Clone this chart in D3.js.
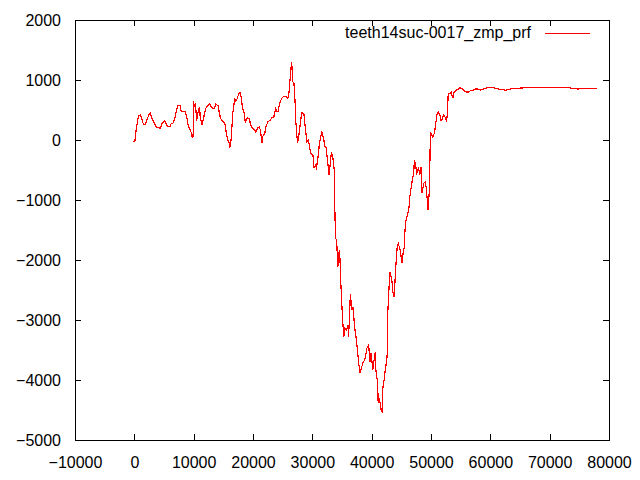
<!DOCTYPE html>
<html>
<head>
<meta charset="utf-8">
<script src="https://cdn.jsdelivr.net/npm/d3@7"></script>
<style>
  body { margin: 0; background: #fff; }
  text { font-family: "Liberation Sans", Arial, sans-serif; font-size: 16px; fill: #000; }
</style>
</head>
<body>
<div id="chart"></div>
<script>
const width = 640;
const height = 480;

const seriesName = "teeth14suc-0017_zmp_prf";
const xTicks = [-10000, 0, 10000, 20000, 30000, 40000, 50000, 60000, 70000, 80000];
const yTicks = [-5000, -4000, -3000, -2000, -1000, 0, 1000, 2000];

// sample position / zmp value
const xs = [
  -200, 100, 300, 700, 1000, 1200, 1500, 1800, 2100, 2500, 2700, 2900, 3400, 3700, 4200, 4400, 4700, 5100, 5300, 5600,
  6000, 6200, 6500, 6800, 7100, 7400, 7700, 7900, 8200, 8600, 8900, 9100, 9300, 9600, 9800, 9900, 10000, 10100, 10300, 10500,
  10600, 10800, 11000, 11100, 11400, 11700, 12000, 12400, 12700, 13000, 13200, 13500, 13700, 14100, 14300, 14500, 14700, 15100, 15300, 15500,
  15800, 16000, 16100, 16300, 16600, 16900, 17100, 17300, 17600, 17800, 18000, 18200, 18500, 18700, 19000, 19400, 19600, 19900, 20300, 20500,
  20800, 21100, 21300, 21500, 21600, 22000, 22200, 22500, 22900, 23200, 23500, 23800, 24000, 24200, 24500, 24900, 25200, 25600, 25800, 26000,
  26200, 26500, 26600, 26700, 26900, 27100, 27200, 27500, 27700, 27900, 28200, 28400, 28600, 28800, 29100, 29300, 29500, 29700, 30100, 30300,
  30500, 30700, 31000, 31200, 31400, 31600, 31900, 32100, 32300, 32600, 32800, 33000, 33200, 33400, 33700, 33800, 33900, 34100, 34300, 34500,
  34600, 34800, 35100, 35300, 35500, 35800, 36000, 36100, 36300, 36400, 36700, 36900, 37100, 37300, 37600, 37800, 38000, 38200, 38500, 38800,
  39000, 39200, 39500, 39700, 39900, 40200, 40400, 40600, 40700, 41000, 41100, 41300, 41600, 41800, 41900, 42100, 42300, 42600, 42700, 42900,
  43100, 43400, 43600, 43800, 44000, 44300, 44500, 44800, 45100, 45300, 45500, 45600, 45800, 46100, 46300, 46400, 46600, 46800, 47100, 47200,
  47400, 47600, 47900, 48100, 48300, 48500, 48800, 49000, 49200, 49400, 49500, 49700, 49800, 49900, 50100, 50300, 50600, 50800, 51000, 51200,
  51500, 51700, 51900, 52100, 52400, 52600, 52700, 52800, 52900, 53200, 53400, 53600, 53700, 53900, 54300, 54600, 54900, 55300, 55600, 56000,
  56300, 56600, 57100, 57400, 57900, 58300, 59100, 60100, 61300, 62600, 63400, 64100, 65800, 67400, 68600, 70000, 71300, 72800, 73900, 74800,
  75900, 77000, 78000
];
const ys = [
  -30, -20, 170, 400, 420, 370, 270, 250, 330, 430, 450, 380, 270, 220, 200, 200, 280, 320, 280, 220,
  220, 270, 280, 350, 500, 580, 580, 480, 470, 480, 350, 220, 200, 120, 30, 70, 650, 550, 620, 320,
  380, 500, 550, 380, 250, 380, 520, 580, 600, 550, 520, 530, 600, 570, 470, 370, 330, 300, 250, 120,
  -20, -50, -130, 0, 450, 680, 650, 680, 770, 800, 720, 550, 450, 300, 370, 350, 250, 200, 170, 130,
  200, 220, 130, -50, 50, 120, 230, 300, 330, 370, 380, 520, 480, 470, 620, 700, 730, 720, 700, 720,
  950, 1300, 1200, 970, 950, 620, 330, -50, 50, 220, 450, 450, 420, 220, -30, 0, -80, -220, -250, -470,
  -420, -470, -250, -50, 50, 130, 30, -100, -120, -370, -580, -420, -220, -250, -500, -1170, -1630, -1670, -2120, -1880,
  -1830, -2380, -3000, -3280, -3130, -3170, -3080, -3280, -2880, -2570, -2830, -2780, -3120, -3220, -3500, -3700, -3880, -3830, -3720, -3670,
  -3580, -3470, -3420, -3700, -3550, -3830, -3670, -3530, -3830, -4050, -4380, -4300, -4500, -4530, -4120, -4000, -3830, -3620, -2920, -2500,
  -2200, -2330, -2550, -2620, -2220, -1780, -1730, -1830, -2050, -1880, -1780, -1530, -1330, -1220, -1120, -970, -830, -700, -530, -330,
  -420, -550, -470, -580, -450, -880, -720, -700, -800, -1030, -1170, -880, -450, 130, 80, 50, 120, 280, 420, 470,
  420, 320, 350, 420, 380, 330, 370, 530, 770, 780, 800, 720, 700, 800, 830, 850, 870, 850, 820, 800,
  800, 820, 830, 850, 850, 830, 860, 880, 850, 830, 850, 860, 870, 880, 870, 880, 870, 880, 860, 850,
  860, 860, 860
];

const data = xs.map((x, i) => ({x, y: ys[i]}));

const plotLeft = 75, plotRight = 609, plotTop = 20, plotBottom = 440;

const x = d3.scaleLinear().domain([-10000, 80000]).range([plotLeft, plotRight]);
const y = d3.scaleLinear().domain([-5000, 2000]).range([plotBottom, plotTop]);

const svg = d3.select("#chart").append("svg")
    .attr("width", width)
    .attr("height", height);

svg.append("rect")
    .attr("width", width)
    .attr("height", height)
    .attr("fill", "#fff");

// inward ticks on all four sides, gnuplot style
svg.append("g")
    .attr("transform", `translate(0,${plotBottom})`)
    .call(d3.axisBottom(x).tickValues(xTicks).tickSizeInner(-6).tickSizeOuter(0).tickPadding(17).tickFormat(d3.format("d")))
    .call(g => g.select(".domain").remove());

svg.append("g")
    .attr("transform", `translate(0,${plotTop})`)
    .call(d3.axisTop(x).tickValues(xTicks).tickSizeInner(-6).tickSizeOuter(0).tickFormat(""))
    .call(g => g.select(".domain").remove());

svg.append("g")
    .attr("transform", `translate(${plotLeft},0)`)
    .call(d3.axisLeft(y).tickValues(yTicks).tickSizeInner(-6).tickSizeOuter(0).tickPadding(14).tickFormat(d3.format("d")))
    .call(g => g.select(".domain").remove());

svg.append("g")
    .attr("transform", `translate(${plotRight},0)`)
    .call(d3.axisRight(y).tickValues(yTicks).tickSizeInner(-6).tickSizeOuter(0).tickFormat(""))
    .call(g => g.select(".domain").remove());

svg.selectAll(".tick text")
    .attr("font-family", null)
    .attr("font-size", null);

svg.selectAll(".tick line")
    .attr("shape-rendering", "crispEdges");

svg.append("rect")
    .attr("x", plotLeft + 0.5)
    .attr("y", plotTop + 0.5)
    .attr("width", plotRight - plotLeft)
    .attr("height", plotBottom - plotTop)
    .attr("fill", "none")
    .attr("stroke", "#000")
    .attr("shape-rendering", "crispEdges");

const line = d3.line()
    .x(d => x(d.x))
    .y(d => y(d.y));

// gnuplot's png output is not antialiased
svg.append("path")
    .datum(data)
    .attr("fill", "none")
    .attr("stroke", "#ff0000")
    .attr("stroke-width", 1.2)
    .attr("shape-rendering", "crispEdges")
    .attr("d", line);

// key
svg.append("text")
    .attr("x", 531)
    .attr("y", 38)
    .attr("text-anchor", "end")
    .text(seriesName);

svg.append("line")
    .attr("x1", 545)
    .attr("x2", 590)
    .attr("y1", 33.5)
    .attr("y2", 33.5)
    .attr("stroke", "#ff0000")
    .attr("shape-rendering", "crispEdges");
</script>
</body>
</html>
